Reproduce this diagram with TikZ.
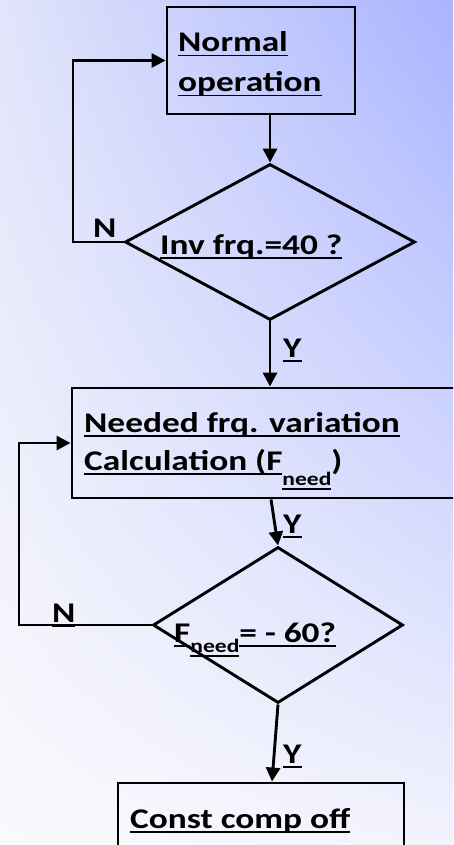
\documentclass[tikz,border=0pt]{standalone}
\usepackage{fontspec}
\setmainfont{Carlito}[FakeStretch=1.24]
\usetikzlibrary{shapes.geometric,arrows.meta,calc,shadings}
\newcommand{\ulx}[1]{\setbox0=\hbox{#1}\rlap{\rule[-4.5pt]{\wd0}{1.8pt}}\box0}
\newcommand{\subx}[2]{\raisebox{#1}{\fontsize{19}{19}\selectfont\ulx{#2}}}
\definecolor{bgTL}{RGB}{225,228,250}
\definecolor{bgTR}{RGB}{168,180,255}
\definecolor{bgBL}{RGB}{250,250,253}
\definecolor{bgBR}{RGB}{242,243,253}
\begin{document}
\begin{tikzpicture}[x=1pt,y=-1pt,
  every node/.style={font=\fontsize{28.5}{32}\selectfont\bfseries},
  boxx/.style={draw, line width=2.9pt, rectangle, inner sep=0pt},
  dia/.style={draw, line width=2.9pt, diamond, inner sep=0pt},
  txt/.style={anchor=base west, inner sep=0pt},
  arr/.style={line width=2.9pt, -{Triangle[length=14pt,width=14pt]}}
]
\useasboundingbox (0,0) rectangle (453,845);
\clip (0,0) rectangle (453,845);
\shade[upper left=bgTL, upper right=bgTR, lower left=bgBL, lower right=bgBR] (0,0) rectangle (453,845);

% shapes
\node[boxx, minimum width=188pt, minimum height=107pt] (b1) at (261,60.5) {};
\node[dia, minimum width=290pt, minimum height=156pt] (d1) at (270,242) {};
\node[boxx, minimum width=403pt, minimum height=110pt] (b2) at (273.5,443) {};
\node[dia, minimum width=250pt, minimum height=156pt] (d2) at (278,625) {};
\node[boxx, minimum width=286pt, minimum height=90pt] (b3) at (261,828) {};

% texts
\node[txt] (t1a) at (178,52) {\ulx{Normal}};
\node[txt] (t1b) at (178,92) {\ulx{operation}};
\node[txt] (t2) at (160,254) {\ulx{Inv frq.=40 ?}};
\node[txt] (t3a) at (84,432) {\ulx{Needed frq. variation}};
\node[txt] (t3b) at (84,470) {\ulx{Calculation (F}\subx{-15pt}{need})};
\node[txt] (t4) at (174,642) {\ulx{F}\subx{-10pt}{need}\ulx{= - 60?}};
\node[txt] (t5) at (130,828) {\ulx{Const comp off}};

% labels
\node[txt] (n1) at (93,237) {N};
\node[txt] (n2) at (52,622) {\ulx{N}};
\node[txt] (y1) at (283,357) {\ulx{Y}};
\node[txt] (y2) at (283,533) {\ulx{Y}};
\node[txt] (y3) at (283,763) {\ulx{Y}};

% connectors
\coordinate (l1) at (73,242);
\coordinate (l2) at (19,625);
\draw[arr] (d1.north |- b1.south) -- (d1.north);
\draw[arr] (d1.west) -- (l1) |- (b1.west);
\draw[arr] (d1.south) -- (d1.south |- b2.north);
\draw[arr] ([xshift=-2.5pt]b2.south) -- (d2.north);
\draw[arr] (d2.west) -- (l2) |- (b2.west);
\draw[arr] (d2.south) -- ([xshift=11pt]b3.north);
\end{tikzpicture}
\end{document}
